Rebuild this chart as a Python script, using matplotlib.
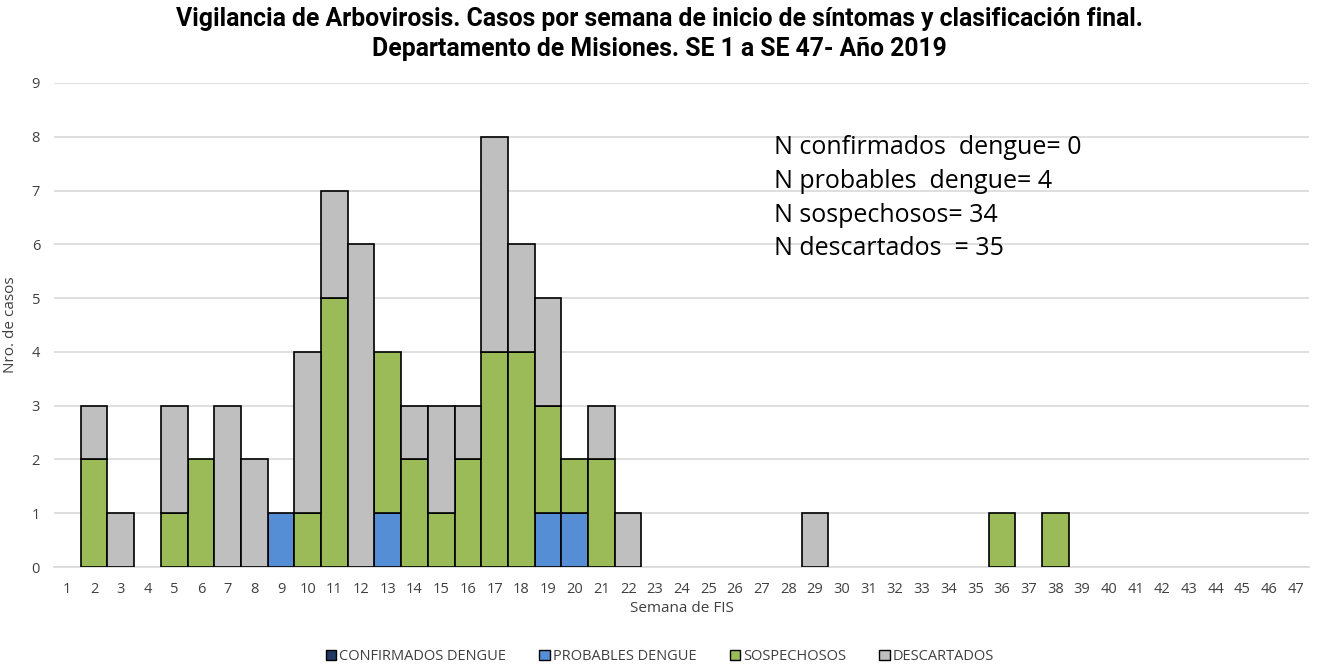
import matplotlib
matplotlib.use("Agg")
import matplotlib.pyplot as plt
import numpy as np

plt.rcParams['font.family'] = ['Open Sans', 'DejaVu Sans']

weeks = list(range(1, 48))
confirmados = [0] * 47
probables = [0]*47
sospechosos = [0]*47
descartados = [0]*47

prob_data = {9: 1, 13: 1, 19: 1, 20: 1}
sosp_data = {2: 2, 5: 1, 6: 2, 10: 1, 11: 5, 13: 3, 14: 2, 15: 1, 16: 2, 17: 4,
             18: 4, 19: 2, 20: 1, 21: 2, 36: 1, 38: 1}
desc_data = {2: 1, 3: 1, 5: 2, 7: 3, 8: 2, 10: 3, 11: 2, 12: 6, 14: 1, 15: 2,
             16: 1, 17: 4, 18: 2, 19: 2, 21: 1, 22: 1, 29: 1}
for w, v in prob_data.items():
    probables[w-1] = v
for w, v in sosp_data.items():
    sospechosos[w-1] = v
for w, v in desc_data.items():
    descartados[w-1] = v

labels = ["CONFIRMADOS DENGUE", "PROBABLES DENGUE", "SOSPECHOSOS", "DESCARTADOS"]
colors = ["#1F3864", "#558ED5", "#9BBB59", "#BFBFBF"]
title = ("Vigilancia de Arbovirosis. Casos por semana de inicio de síntomas y clasificación final.\n"
         "Departamento de Misiones. SE 1 a SE 47- Año 2019")
annot = ["N confirmados  dengue= 0", "N probables  dengue= 4",
         "N sospechosos= 34", "N descartados  = 35"]

fig = plt.figure(figsize=(13.17, 6.66), dpi=100)
ax = fig.add_axes([0.041, 0.1486, 0.953, 0.7268])

x = np.array(weeks)
bottom = np.zeros(47)
handles = []
for series, lab, col in zip([confirmados, probables, sospechosos, descartados], labels, colors):
    vals = np.array(series, dtype=float)
    mask = vals > 0
    ax.bar(x[mask], vals[mask], bottom=bottom[mask], width=1.0, color=col,
           edgecolor="black", linewidth=1.2, zorder=3)
    handles.append(plt.Rectangle((0, 0), 1, 1, facecolor=col, edgecolor="black", linewidth=1))
    bottom += vals

ax.set_xlim(0.5, 47.5)
ax.set_ylim(0, 9)
ax.set_xticks(weeks)
ax.set_xticklabels([str(w) for w in weeks], fontsize=10.5, color="#404040")
ax.set_yticks(range(0, 10))
ax.set_yticklabels([str(i) for i in range(10)], fontsize=10.5, color="#404040")
ax.tick_params(axis="x", length=0, pad=11)
ax.tick_params(axis="y", length=0, pad=10)
ax.yaxis.grid(True, color="#D9D9D9", linewidth=1.2, zorder=0)
ax.set_axisbelow(True)
for s in ["top", "right", "left"]:
    ax.spines[s].set_visible(False)
ax.spines["bottom"].set_color("#D9D9D9")
ax.spines["bottom"].set_linewidth(1.2)

ax.set_xlabel("Semana de FIS", fontsize=11, color="#404040", labelpad=3)
ax.set_ylabel("Nro. de casos", fontsize=11, color="#404040", labelpad=10)

fig.text(0.501, 0.99, title, ha="center", va="top", fontsize=17.8, fontweight="bold",
         linespacing=1.3, family=["Roboto", "DejaVu Sans"])

for i, line in enumerate(annot):
    fig.text(0.588, 1 - (147 + i * 34) / 666, line, ha="left", va="center", fontsize=18,
             color="black")

fig.legend(handles, labels, loc="center", bbox_to_anchor=(0.501, 0.014), ncol=4,
           frameon=False, fontsize=10.5, handlelength=0.7, handleheight=0.7,
           handletextpad=0.2, columnspacing=2.3, labelcolor="#404040")

fig.savefig("out.png", dpi=100)
